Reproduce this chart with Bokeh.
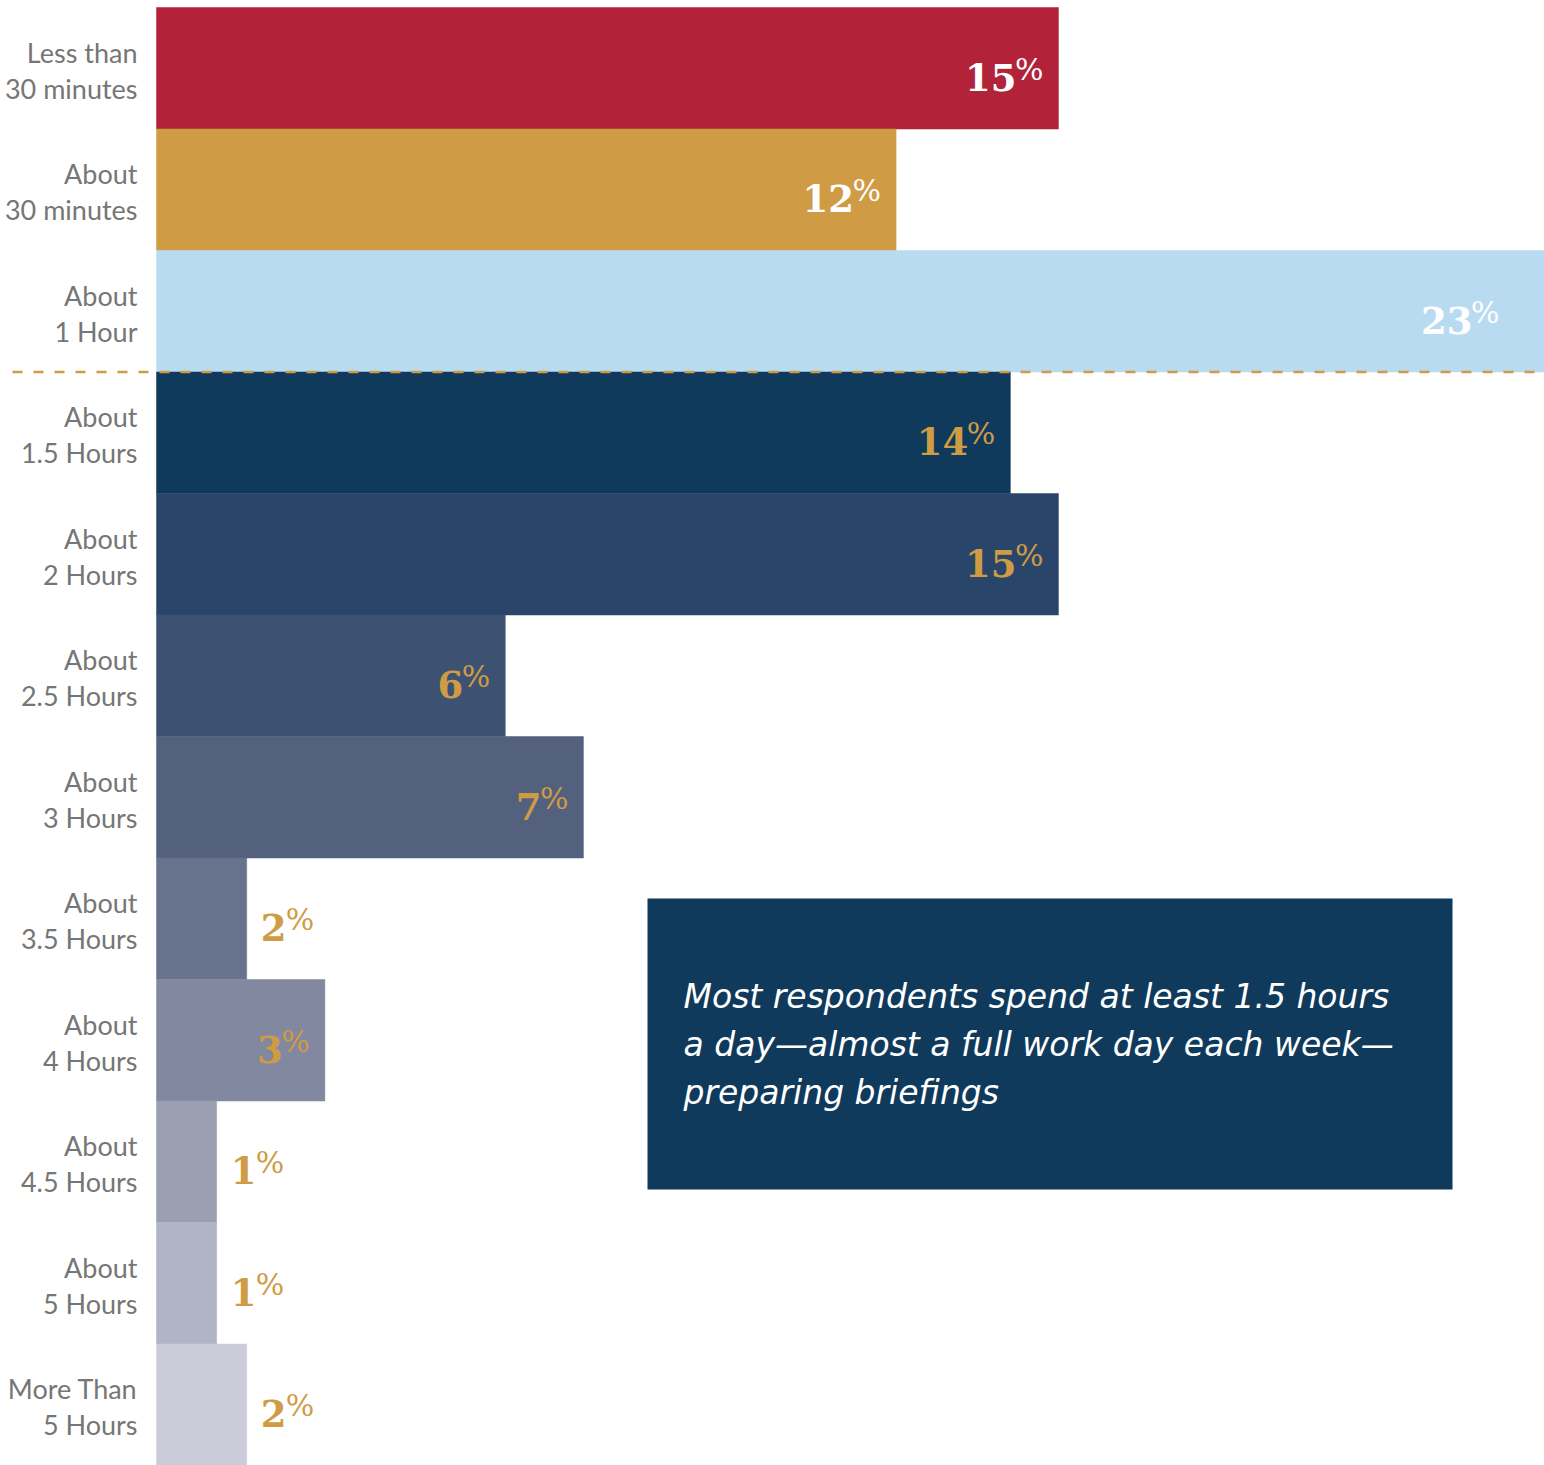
from bokeh.plotting import figure
from bokeh.models import Range1d, ColumnDataSource
from bokeh.core.properties import value
from bokeh.embed import file_html
from bokeh.resources import INLINE

# ---- data ----
line1 = ["Less than", "About", "About", "About", "About", "About", "About",
         "About", "About", "About", "About", "More Than"]
line2 = ["30 minutes", "30 minutes", "1 Hour", "1.5 Hours", "2 Hours", "2.5 Hours",
         "3 Hours", "3.5 Hours", "4 Hours", "4.5 Hours", "5 Hours", "5 Hours"]
shares = [15.0, 12.3, 23.1, 14.2, 15.0, 5.8, 7.1, 1.5, 2.8, 1.0, 1.0, 1.5]
labels = [15, 12, 23, 14, 15, 6, 7, 2, 3, 1, 1, 2]
bar_colors = ["#B22339", "#CF9B45", "#B9DBF2", "#0F3A5C", "#29466A", "#3D5272",
              "#53617F", "#67738D", "#82889F", "#9A9FB1", "#B0B4C5", "#CBCCD9"]
label_colors = ["white", "white", "white"] + ["#D09B45"] * 9
note_lines = ["Most respondents spend at least 1.5 hours",
              "a day\u2014almost a full work day each week\u2014",
              "preparing briefings"]

# ---- layout (pixels) ----
W, H = 1544, 1465
PLOT_LEFT = 156          # px where 0% sits
TOP = 7
ROW = 121.5
PX_PER_PCT = 60.13
n = len(shares)

x_start = -PLOT_LEFT / PX_PER_PCT
x_end = (W - PLOT_LEFT) / PX_PER_PCT
y_top = -TOP / ROW

p = figure(width=W, height=H, output_backend="svg", toolbar_location=None,
           x_range=Range1d(x_start, x_end), y_range=Range1d(n, y_top),
           min_border=0, min_border_left=0, min_border_right=0,
           min_border_top=0, min_border_bottom=0)
p.xaxis.visible = False
p.yaxis.visible = False
p.grid.visible = False
p.outline_line_color = None
p.background_fill_color = "white"
p.border_fill_color = "white"

ys = [i + 0.5 for i in range(n)]
src = ColumnDataSource(dict(y=ys, v=shares, color=bar_colors))
p.hbar(y="y", left=0, right="v", height=1.0, fill_color="color",
       line_color="color", line_width=0.5, source=src)

# dashed separator below "About 1 Hour"
p.segment(x0=[(12 - PLOT_LEFT) / PX_PER_PCT], x1=[x_end], y0=[3], y1=[3],
          line_color="#D09B45", line_width=2.5, line_dash="10 11")

# category labels (two lines)
cat = ColumnDataSource(dict(y=ys, a=line1, b=line2))
for col, yo in (("a", -16), ("b", 20)):
    p.text(x=0, y="y", text=col, source=cat, x_offset=-19, y_offset=yo,
           text_align="right", text_baseline="alphabetic",
           text_font=value("Lato"), text_font_size="27px", text_color="#767676")

# value labels
DIGIT_W = 23
anchor_max = (W - 30 - PLOT_LEFT) / PX_PER_PCT
num_txt, pct_txt, num_off, pct_off, num_align, pct_align, anchors = [], [], [], [], [], [], []
for s, lab in zip(shares, labels):
    t = str(lab)
    num_txt.append(t)
    pct_txt.append("%")
    anchors.append(min(s, anchor_max))
    outside = (s * PX_PER_PCT) < 110
    if outside:
        num_off.append(14)
        num_align.append("left")
        pct_off.append(14 + len(t) * DIGIT_W + 2)
        pct_align.append("left")
    else:
        num_off.append(-42)
        num_align.append("right")
        pct_off.append(-15)
        pct_align.append("right")

vl = ColumnDataSource(dict(y=ys, v=anchors, num=num_txt, pct=pct_txt,
                           no=num_off, po=pct_off, na=num_align, pa=pct_align,
                           c=label_colors))
p.text(x="v", y="y", text="num", source=vl, x_offset="no", y_offset=9,
       text_align="na", text_baseline="alphabetic",
       text_font=value("DejaVu Serif"), text_font_style="bold",
       text_font_size="37px", text_color="c")
p.text(x="v", y="y", text="pct", source=vl, x_offset="po", y_offset=1,
       text_align="pa", text_baseline="alphabetic",
       text_font=value("DejaVu Serif"), text_font_size="30px", text_color="c")

# annotation box
BOX_L, BOX_R, BOX_T, BOX_B = 647, 1452, 898, 1189
bx0 = (BOX_L - PLOT_LEFT) / PX_PER_PCT
bx1 = (BOX_R - PLOT_LEFT) / PX_PER_PCT
by0 = (BOX_T - TOP) / ROW
by1 = (BOX_B - TOP) / ROW
p.quad(left=[bx0], right=[bx1], top=[by0], bottom=[by1],
       fill_color="#0F3A5C", line_color=None)
note = ColumnDataSource(dict(x=[bx0] * 3, y=[by0] * 3, t=note_lines,
                             yo=[98 + 48 * i for i in range(3)]))
p.text(x="x", y="y", text="t", source=note, x_offset=36, y_offset="yo",
       text_align="left", text_baseline="alphabetic",
       text_font=value("DejaVu Sans"), text_font_style="italic",
       text_font_size="33px", text_color="white")

open("out.html", "w").write(file_html(p, INLINE))
